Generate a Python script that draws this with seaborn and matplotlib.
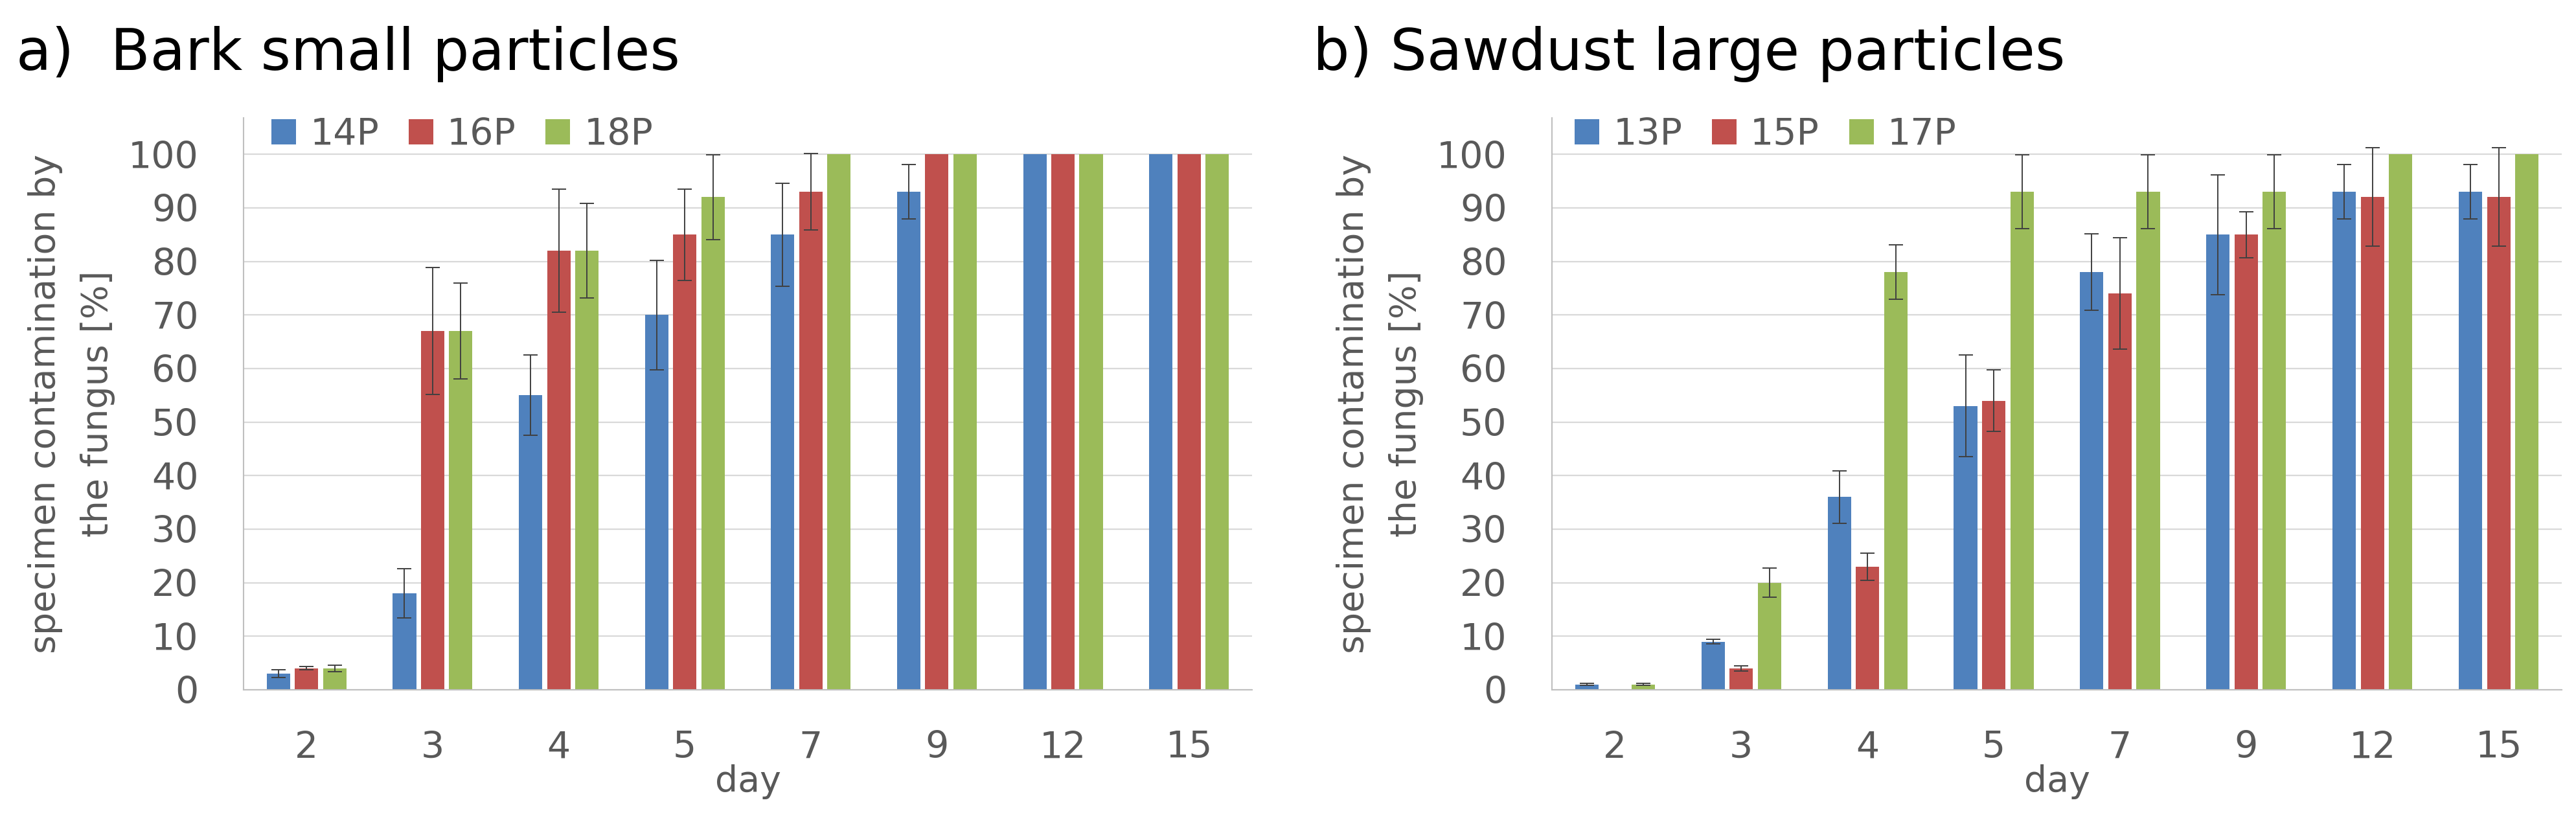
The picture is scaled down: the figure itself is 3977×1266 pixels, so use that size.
import numpy as np
import pandas as pd
import matplotlib
matplotlib.use("Agg")
import matplotlib.pyplot as plt
import seaborn as sns

# ---------------- data ----------------
days = ["2", "3", "4", "5", "7", "9", "12", "15"]

a_title = "a)  Bark small particles"
a_series = ["14P", "16P", "18P"]
a_14P = [3, 18, 55, 70, 85, 93, 100, 100]
a_14P_err = [0.7, 4.6, 7.5, 10.2, 9.6, 5.1, 0, 0]
a_16P = [4, 67, 82, 85, 93, 100, 100, 100]
a_16P_err = [0.3, 11.8, 11.5, 8.5, 7.1, 0, 0, 0]
a_18P = [4, 67, 82, 92, 100, 100, 100, 100]
a_18P_err = [0.6, 9.0, 8.8, 7.9, 0, 0, 0, 0]

b_title = "b) Sawdust large particles"
b_series = ["13P", "15P", "17P"]
b_13P = [1, 9, 36, 53, 78, 85, 93, 93]
b_13P_err = [0.2, 0.4, 4.9, 9.5, 7.1, 11.2, 5.1, 5.1]
b_15P = [0, 4, 23, 54, 74, 85, 92, 92]
b_15P_err = [0, 0.5, 2.5, 5.7, 10.4, 4.3, 9.2, 9.2]
b_17P = [1, 20, 78, 93, 93, 93, 100, 100]
b_17P_err = [0.2, 2.7, 5.1, 6.9, 6.9, 6.9, 0, 0]

y_label = "specimen contamination by\nthe fungus [%]"
x_label = "day"
y_ticks = [0, 10, 20, 30, 40, 50, 60, 70, 80, 90, 100]

colors = ["#4F81BD", "#C0504D", "#9BBB59"]

# ---------------- style ----------------
sns.set_theme(style="white")
plt.rcParams["font.family"] = ["DejaVu Sans"]

W, H = 3977, 1266
fig = plt.figure(figsize=(W / 100, H / 100), dpi=100)

GRAY_TXT = "#595959"
AX_COL = "#BFBFBF"
GRID_COL = "#D9D9D9"


def make_panel(rect, series, values, errors, title, title_x, leg_x):
    ax = fig.add_axes(rect)
    rows = []
    for s, vals in zip(series, values):
        for d, v in zip(days, vals):
            rows.append({"day": d, "series": s, "value": v})
    df = pd.DataFrame(rows)
    sns.barplot(data=df, x="day", y="value", hue="series", order=days,
                hue_order=series, palette=colors, saturation=1,
                width=0.67, gap=0.17, errorbar=None, linewidth=0, ax=ax)
    # error bars at the bar centres produced by seaborn
    for cont, errs, vals in zip(ax.containers, errors, values):
        xs = np.array([p.get_x() + p.get_width() / 2 for p in cont])
        ys = np.array(vals, dtype=float)
        es = np.array(errs, dtype=float)
        m = es > 0
        ax.errorbar(xs[m], ys[m], yerr=es[m], fmt="none", ecolor="#404040",
                    elinewidth=1.4, capsize=8, capthick=1.4, zorder=5)

    ax.set_ylim(0, 106.8)
    ax.set_xlim(-0.5, len(days) - 0.5)
    ax.set_yticks(y_ticks)
    ax.yaxis.grid(True, color=GRID_COL, linewidth=1.6)
    ax.set_axisbelow(True)
    for sp in ["top", "right"]:
        ax.spines[sp].set_visible(False)
    for sp in ["left", "bottom"]:
        ax.spines[sp].set_color(AX_COL)
        ax.spines[sp].set_linewidth(1.5)
    ax.tick_params(axis="x", length=0, pad=45, labelsize=41, labelcolor=GRAY_TXT)
    ax.tick_params(axis="y", length=0, pad=50, labelsize=41, labelcolor=GRAY_TXT)

    ax.set_ylabel(y_label, fontsize=40, color=GRAY_TXT, linespacing=1.65)
    ax.yaxis.set_label_coords(-0.127, 0.5)
    ax.set_xlabel(x_label, fontsize=40, color=GRAY_TXT)
    ax.xaxis.set_label_coords(0.5, -0.13)

    handles, labels = ax.get_legend_handles_labels()
    if ax.get_legend() is not None:
        ax.get_legend().remove()
    ax.legend(handles, labels, ncol=3, frameon=False, loc="center left",
              bbox_to_anchor=(leg_x, 0.9705), borderaxespad=0, borderpad=0,
              handlelength=0.67, handleheight=0.68, handletextpad=0.37,
              columnspacing=0.8, fontsize=41, labelcolor=GRAY_TXT)

    fig.text(title_x / W, 1 - 108 / H, title, fontsize=64, color="#000000",
             ha="left", va="baseline")
    return ax


make_panel([376 / W, 201 / H, 1557 / W, 883 / H], a_series,
           [a_14P, a_16P, a_18P], [a_14P_err, a_16P_err, a_18P_err],
           a_title, 25, 0.0276)
make_panel([2396 / W, 201 / H, 1559 / W, 883 / H], b_series,
           [b_13P, b_15P, b_17P], [b_13P_err, b_15P_err, b_17P_err],
           b_title, 2027, 0.0225)

fig.savefig("out.png", dpi=100, facecolor="white")
